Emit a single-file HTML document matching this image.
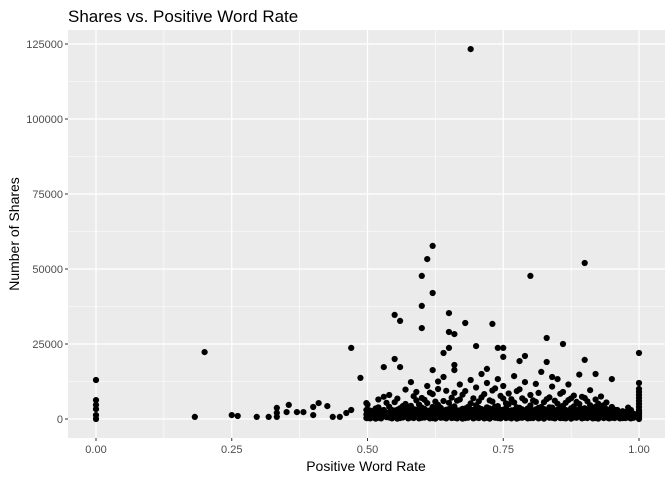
<!DOCTYPE html>
<html><head><meta charset="utf-8"><style>
body{margin:0;background:#fff;font-family:"Liberation Sans",sans-serif}
svg text{font-family:"Liberation Sans",sans-serif}
</style></head><body>
<svg id="chart" width="672" height="480">
<rect width="672" height="480" fill="#fff"/>
<text x="68" y="22" font-size="17" fill="#000">Shares vs. Positive Word Rate</text>
<rect id="panel" x="68" y="30" width="597" height="408" fill="#EBEBEB"/>
<g id="grid"></g>
<g id="axes"></g>
<g id="points"></g>
<text x="366" y="471" font-size="14" text-anchor="middle">Positive Word Rate</text>
<text transform="translate(19,234) rotate(-90)" font-size="14" text-anchor="middle">Number of Shares</text>
</svg>
<script>
const xTicks=[0,0.25,0.5,0.75,1];
const xTickLabels=["0.00","0.25","0.50","0.75","1.00"];
const yTicks=[0,25000,50000,75000,100000,125000];
const yTickLabels=["0","25000","50000","75000","100000","125000"];
const rates=[0,0.182,0.2,0.25,0.261,0.296,0.318,0.333,0.351,0.355,0.37,0.382,0.40,0.41,0.426,0.436,0.449,0.461,0.47,0.487,0.498,
0.50,0.51,0.52,0.53,0.54,0.55,0.56,0.57,0.58,0.59,0.60,0.61,0.62,0.63,0.64,0.65,0.66,0.67,0.68,0.69,0.70,0.71,0.72,0.73,0.74,0.75,0.76,0.77,0.78,0.79,0.80,0.81,0.82,0.83,0.84,0.85,0.86,0.87,0.88,0.89,0.90,0.91,0.92,0.93,0.94,0.95,0.96,0.97,0.98,0.99,1.00,
0.505,0.515,0.525,0.535,0.545,0.555,0.565,0.575,0.585,0.595,0.605,0.615,0.625,0.635,0.645,0.655,0.665,0.675,0.685,0.695,0.705,0.715,0.725,0.735,0.745,0.755,0.765,0.775,0.785,0.795,0.805,0.815,0.825,0.835,0.845,0.855,0.865,0.875,0.885,0.895,0.905,0.915,0.925,0.935,0.945,0.955,0.965,0.975,0.985];
const sharesAtRate=[
[0,1300,3300,4700,6300,13000],[700],[22300],[1300],[1000],[700],[700],[700,2000,3700],[2300],[4700],[2300],[2300],[1300,4000],[5300],[4300],[700],[700],[2000],[3000,23700],[13700],[300,1500,3000,5300],
[300,1100,2000,3200,4800],[600,1500,2600,800],[400,1300,2400,3900,6500],[900,1800,3000,7400,17300],[500,1400,2200,4100,8000],
[700,1600,2800,5600,20000,34700],[300,1200,2300,3600,17300,32700],[800,1700,2900,5000,9800],[500,1400,2600,4400,12300],[900,1900,3100,6200,9000],
[400,1300,2500,3800,7000,30300,37700,47700],[700,1600,2700,5300,53300,11000],[300,1200,2200,4000,8300,16300,42000,57700],[800,1800,3000,4700,10000,12500],[500,1500,2600,6000,22000,14000],
[900,1900,3300,5400,23700,29000,35300],[400,1300,2400,4200,8700,18000,28300,16300],[700,1700,2900,6500,11500],[300,1100,2100,3500,9300,32000],[800,1800,3200,5200,123300,13000],
[500,1400,2500,4600,24300,10500],[900,2000,3300,7200,15000],[400,1200,2300,3900,12000,16700],[700,1700,2800,5800,31700,9500],[300,1300,2400,4300,23700,13300],
[800,1900,3100,6800,23700,20700,11000],[500,1500,2600,4900,8500],[900,1800,3000,5500,14300],[400,1200,2200,3700,9900,19300],[700,1600,2700,6100,21000,12300],
[300,1100,2500,4500,47700,8000],[800,1900,3200,5700,11700],[500,1400,2400,4000,15700],[900,1700,2900,6600,27000,19000],[400,1300,2300,3800,10800,14000],
[700,1800,3100,5100,13300],[300,1200,2600,4400,25000,9000],[800,1600,2800,6300,11500],[500,1500,2400,4200,7800],[900,1900,3200,5000,14800],
[400,1100,2200,3600,52000,19700,7000],[700,1700,2700,4600,9600],[300,1300,2500,4100,15000,6500],[800,1600,2300,3500,7500],[500,1200,2100,3300,5500],
[400,1400,2600,13300,4000],[600,1100,2000,3000],[300,900,1700,2600],[500,1300,2200,3800],[400,1000,1800],
[0,500,1000,1500,2000,2500,3000,4000,5000,6000,7000,8000,9000,10000,12000,22000],
[200,1000,1800,2800],[100,900,2100,3500],[200,800,1700,2900],[600,1300,2100,5400],[200,1000,1900,3000],
[100,800,2000,3100,6800],[500,1400,2200,4300],[200,1000,1900,3600],[300,1100,2000,3300,7600],[200,900,2100,4800],
[500,1200,2000,3400,6400],[200,1000,1800,2900,8800],[100,900,2000,3100,5800],[400,1100,1900,3700],[200,1000,2000,3100,9400],
[300,900,2100,3900,7100],[200,1000,1800,2900,6100],[100,800,2000,3400,8100],[400,1100,1900,4000],[200,1000,2100,3000,6900],
[300,900,1800,3700,5900],[200,1000,2000,2900,8300],[100,800,1900,3500,6200],[400,1100,2100,4100,10200],[200,900,1800,3000,7700],
[300,1000,2000,3600,5200],[200,900,1900,2900,6600],[100,1100,2100,3900,9300],[400,1000,1800,3200,6900],[200,900,2000,3500],
[300,1100,1900,2900,6200],[200,1000,2100,3700,8700],[100,800,1900,3300,5600],[400,1100,2000,3900,7200],[200,900,1800,2900,6100],
[300,1000,2100,3500,8400],[200,1100,1900,3000,5400],[100,900,2000,3600,6900],[400,1000,1800,2900,5700],[200,900,2100,3400,7400],
[300,1100,1900,3000,5900],[200,1000,2000,3700],[100,800,1800,2800,5100],[300,1000,2000,3200,4600],[200,900,1700,2700],
[300,1000,1900,3100],[200,800,1600,2400],[300,900,1500,2300],[200,700,1400,2100,3000]
];
const NS="http://www.w3.org/2000/svg";
const X0=68,X1=665,Y0=30,Y1=438;
const xScale=v=>96+v*543;
const yScale=v=>419-v*0.003;
function mk(tag,attrs,parent){const e=document.createElementNS(NS,tag);for(const k in attrs)e.setAttribute(k,attrs[k]);parent.appendChild(e);return e;}
const grid=document.getElementById('grid'),axes=document.getElementById('axes'),pts=document.getElementById('points');
for(let i=0;i<xTicks.length-1;i++){const m=(xTicks[i]+xTicks[i+1])/2;
const l=mk('line',{x1:xScale(m),x2:xScale(m),y1:Y0,y2:Y1,stroke:'#fff','stroke-width':0.6},grid);

}
for(let i=0;i<yTicks.length-1;i++){const m=(yTicks[i]+yTicks[i+1])/2;
const l=mk('line',{x1:X0,x2:X1,y1:yScale(m),y2:yScale(m),stroke:'#fff','stroke-width':0.6},grid);

}
xTicks.forEach((t,i)=>{const x=xScale(t);
const l=mk('line',{x1:x,x2:x,y1:Y0,y2:Y1,stroke:'#fff','stroke-width':1.2},grid);


const tk=mk('line',{x1:x,x2:x,y1:Y1,y2:Y1+3,stroke:'#333','stroke-width':1},axes);


const tx=mk('text',{x:x,y:Y1+15,'font-size':11,fill:'#4D4D4D','text-anchor':'middle'},axes);tx.textContent=xTickLabels[i];

});
yTicks.forEach((t,i)=>{const y=yScale(t);
const l=mk('line',{x1:X0,x2:X1,y1:y,y2:y,stroke:'#fff','stroke-width':1.2},grid);


const tk=mk('line',{x1:X0-3,x2:X0,y1:y,y2:y,stroke:'#333','stroke-width':1},axes);


const tx=mk('text',{x:X0-5,y:y+4,'font-size':11,fill:'#4D4D4D','text-anchor':'end'},axes);tx.textContent=yTickLabels[i];

});
rates.forEach((r,i)=>{sharesAtRate[i].forEach(s=>{
const c=mk('circle',{cx:xScale(r),cy:yScale(s),r:3.1,fill:'#000'},pts);

});});
</script>
</body></html>
